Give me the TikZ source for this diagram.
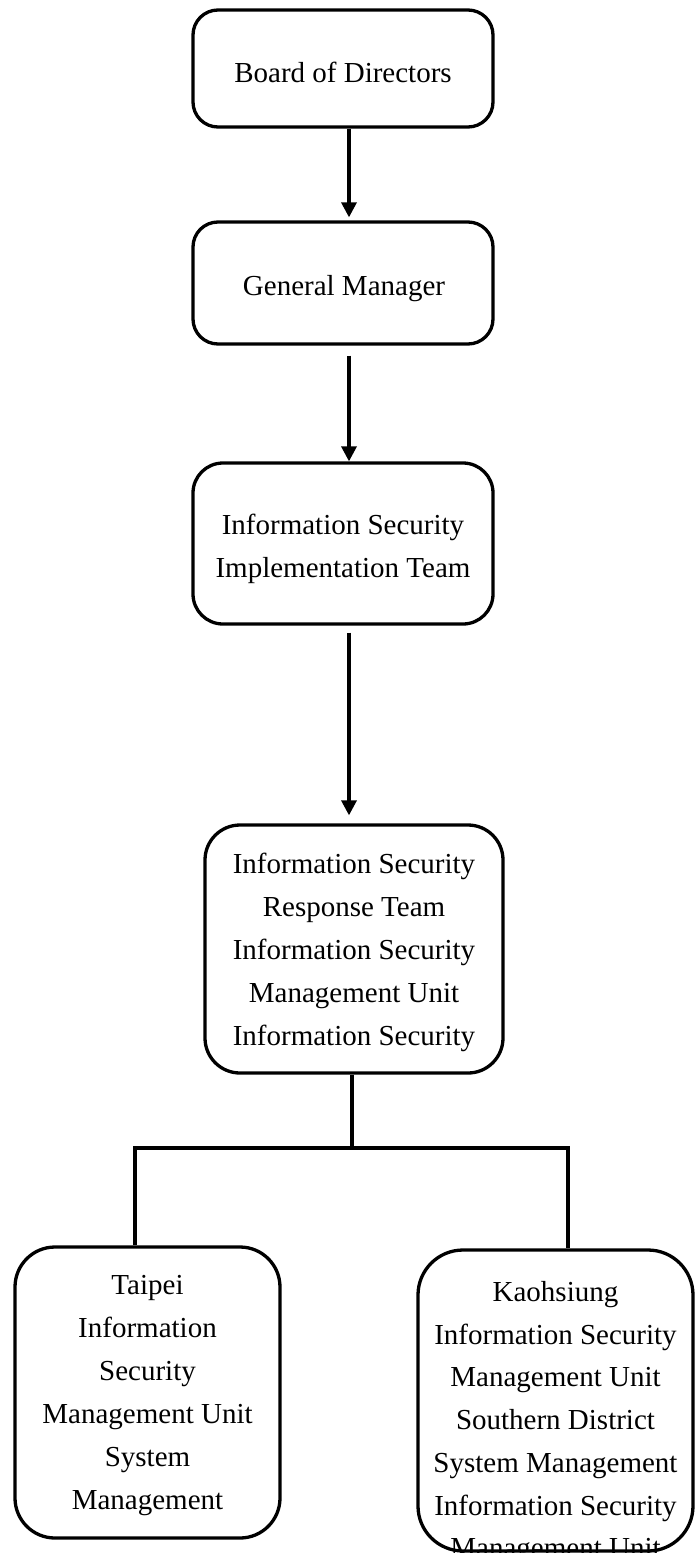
\documentclass[tikz,border=0pt]{standalone}
\usepackage{fontspec}
\setmainfont{Liberation Serif}
\usetikzlibrary{arrows.meta,calc}
\begin{document}
\begin{tikzpicture}[x=1pt,y=-1pt,
  box/.style={draw,line width=3.3pt,rounded corners=#1,inner sep=0pt},
  box/.default=25pt,
  txt/.style={align=center,inner sep=0pt,anchor=north,font=\fontsize{29}{#1}\selectfont},
  txt/.default=43pt,
  arr/.style={line width=3.3pt,-{Triangle[width=15pt,length=15pt]}},
  conn/.style={line width=3.3pt,line join=miter}]
\useasboundingbox (0,0) rectangle (695,1553);
\coordinate (ax) at (349,0);
% texts
\node[txt] (bodt) at (343,62.2) {Board of Directors};
\node[txt] (gmt) at (344,275.2) {General Manager};
\node[txt] (istt) at (343,514.2) {Information Security\\Implementation Team};
\node[txt] (irtt) at (354,853.2) {Information Security\\Response Team\\Information Security\\Management Unit\\Information Security};
\node[txt] (tpet) at (147.5,1275.2) {Taipei\\Information\\Security\\Management Unit\\System\\Management};
\node[txt=42.7pt] (kaot) at (555.5,1281.2) {Kaohsiung\\Information Security\\Management Unit\\Southern District\\System Management\\Information Security\\Management Unit};
% boxes
\node[box=25pt,minimum width=300pt,minimum height=117pt] (bod) at (343,68.5) {};
\node[box=25pt,minimum width=300pt,minimum height=122pt] (gm) at (343,283) {};
\node[box=30pt,minimum width=300pt,minimum height=161pt] (ist) at (343,543.5) {};
\node[box=35pt,minimum width=298pt,minimum height=248pt] (irt) at (354,949) {};
\node[box=40pt,minimum width=265pt,minimum height=291pt] (tpe) at (147.5,1392.5) {};
\node[box=45pt,minimum width=275pt,minimum height=301pt] (kao) at (555.5,1400.5) {};
% connectors
\draw[arr,shorten >=3pt] (bod.south -| ax) -- (gm.north -| ax);
\draw[arr,shorten <=10pt] (gm.south -| ax) -- (ist.north -| ax);
\draw[arr,shorten <=7pt,shorten >=8pt] (ist.south -| ax) -- (irt.north -| ax);
\coordinate (jn) at (352,1148);
\coordinate (jl) at (135,1148);
\coordinate (jr) at (568,1148);
\draw[conn] (irt.south -| jn) -- (jn);
\draw[conn] (jl |- tpe.north) -- (jl) -- (jr) -- (jr |- kao.north);
\end{tikzpicture}
\end{document}
